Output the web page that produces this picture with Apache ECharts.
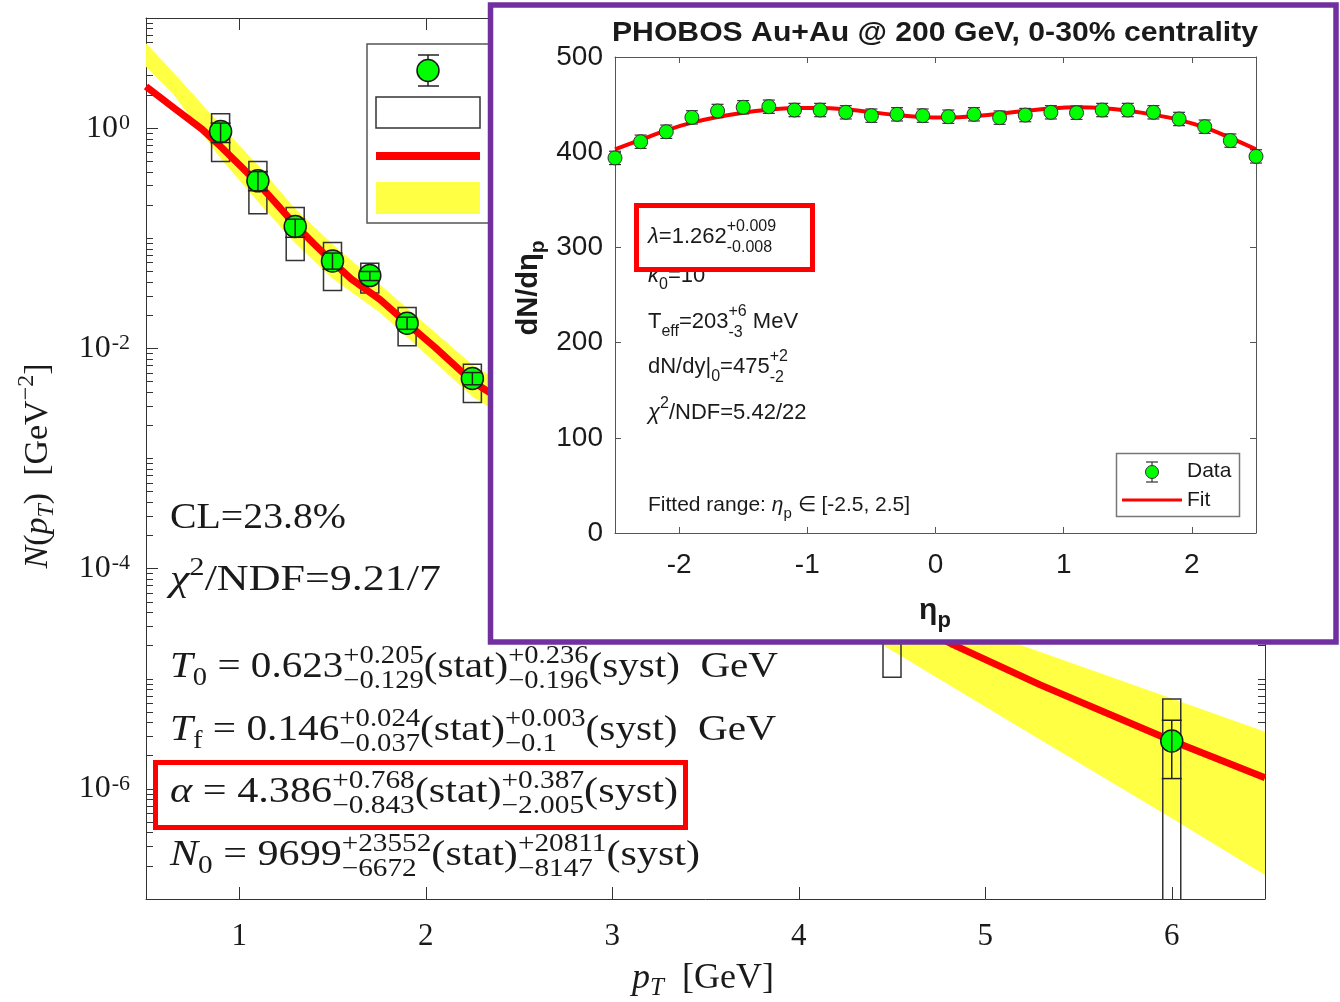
<!DOCTYPE html>
<html><head><meta charset="utf-8">
<script src="https://cdn.jsdelivr.net/npm/echarts@6/dist/echarts.min.js"></script>
<style>html,body{margin:0;padding:0;background:#fff}#c{width:1340px;height:1002px}</style>
</head><body><div id="c"></div>
<script>
// ---------------- main panel data (pT spectrum) ----------------
const ptValues    = [0.9, 1.1, 1.3, 1.5, 1.7, 1.9, 2.25, 4.5, 6.0];
const yieldValues = [0.93, 0.332, 0.128, 0.0623, 0.0458, 0.0169, 0.00532, 3.0e-5, 2.72e-6];
const statLow     = [0.74, 0.27, 0.102, 0.0524, 0.0413, 0.0149, 0.00467, 2.4e-5, 1.24e-6];
const statHigh    = [1.11, 0.403, 0.149, 0.0733, 0.0499, 0.0192, 0.00603, 3.6e-5, 4.2e-6];
const systLow     = [0.497, 0.167, 0.0627, 0.0335, 0.0319, 0.01054, 0.00322, 1.03e-5, 5e-8];
const systHigh    = [1.35, 0.497, 0.19, 0.0914, 0.0594, 0.0235, 0.00718, 8e-5, 6.56e-6];
const fitPt       = [0.5, 0.65, 0.8, 0.9, 1.0, 1.1, 1.2, 1.3, 1.4, 1.5, 1.6, 1.757, 1.9, 2.05, 2.25, 2.6, 3, 3.5, 4, 4.5, 4.83, 5.295, 6, 6.5];
const fitValues   = [2.39, 1.52, 0.98, 0.68, 0.465, 0.316, 0.205, 0.132, 0.089, 0.0613, 0.0428, 0.0276, 0.0169, 0.0102, 0.0050, 2.1e-3, 8.3e-4, 2.8e-4, 1.05e-4, 4.0e-5, 2.03e-5, 8.8e-6, 2.73e-6, 1.26e-6];
const bandPt      = [0.5, 0.65, 0.9, 1.1, 1.3, 1.5, 1.757, 2.25, 3, 4, 4.45, 5.19, 6, 6.5];
const bandUpper   = [5.9, 3.16, 1.07, 0.46, 0.185, 0.088, 0.0377, 7.1e-3, 1.2e-3, 1.6e-4, 6e-5, 2.03e-5, 6.6e-6, 3.3e-6];
const bandLower   = [3.6, 2.0, 0.53, 0.215, 0.09, 0.043, 0.0209, 3.65e-3, 5.6e-4, 6.3e-5, 2.03e-5, 3.58e-6, 5.4e-7, 1.65e-7];
const xTickValues = [1, 2, 3, 4, 5, 6];
const yMajorTicks = [1e-6, 1e-4, 1e-2, 1];

// ---------------- inset data (dN/deta) ----------------
const etaValues  = [-2.5,-2.3,-2.1,-1.9,-1.7,-1.5,-1.3,-1.1,-0.9,-0.7,-0.5,-0.3,-0.1,0.1,0.3,0.5,0.7,0.9,1.1,1.3,1.5,1.7,1.9,2.1,2.3,2.5];
const dndeta     = [394,411,421.5,436.6,443.3,447.2,447.8,444.3,444.3,441.9,438.4,439.8,438.4,437.3,439.8,436.3,439,441.9,441.5,444.3,444.3,441.9,434.9,426.8,412.2,395.6];
const dndetaErr  = [7,7,7,7,7,7,7,7,7,7,7,7,7,7,7,7,7,7,7,7,7,7,7,7,7,7];
const fitDndeta  = [403,413,423,431,437,441.5,444.5,446.3,446.5,445,442,439,436.8,436.5,437.8,440.5,443.5,446,447.2,446.5,443.6,439.5,434,426,415,403];
const etaTicks   = [-2, -1, 0, 1, 2];

// minor log ticks (2..9 x 10^n and odd decades)
const yMinorTicks = [];
for (let e = -7; e <= 0; e++) {
  if (e % 2 !== 0) yMinorTicks.push(Math.pow(10, e));
  for (let k = 2; k <= 9; k++) yMinorTicks.push(k * Math.pow(10, e));
}
yMinorTicks.push(10);

const SERIF = 'Liberation Serif', SANS = 'Liberation Sans';
const AX = '#333';

// ------------- text helpers (sub/superscripts) -------------
const mctx = document.createElement('canvas').getContext('2d');
function fstr(p, ff) { return (p.it ? 'italic ' : '') + (p.b ? 'bold ' : '') + p.fs + 'px "' + ff + '"'; }
function meas(t, f) { mctx.font = f; return mctx.measureText(t).width; }
function tEl(t, x, y, p, ff, fill, z) {
  return { type: 'text', x: x, y: y, z: z, style: { text: t, fontSize: p.fs, fontFamily: ff,
    fontStyle: p.it ? 'italic' : 'normal', fontWeight: p.b ? 'bold' : 'normal',
    fill: fill, align: 'left', verticalAlign: 'middle' } };
}
function mathLine(o) {
  const ff = o.ff, fill = o.fill || '#1a1a1a', z = o.z || 5, base = o.fs || 36;
  let cx = 0; const kids = [];
  for (const q of o.pieces) {
    const p = Object.assign({ fs: base }, q);
    if (p.sup !== undefined || p.sub !== undefined) {
      let w = 0;
      if (p.sup !== undefined) { w = Math.max(w, meas(p.sup, fstr(p, ff))); kids.push(tEl(p.sup, cx, p.up, p, ff, fill, z)); }
      if (p.sub !== undefined) { w = Math.max(w, meas(p.sub, fstr(p, ff))); kids.push(tEl(p.sub, cx, p.dn, p, ff, fill, z)); }
      cx += w + (p.gap || 0);
    } else {
      kids.push(tEl(p.t, cx, p.dy || 0, p, ff, fill, z));
      cx += meas(p.t, fstr(p, ff)) + (p.gap || 0);
    }
  }
  const sx = o.target ? o.target / cx : 1;
  const off = o.align === 'center' ? -cx * sx / 2 : 0;
  return { type: 'group', x: o.x, y: o.y, rotation: o.rotation || 0, z: z,
    children: [{ type: 'group', x: off, scaleX: sx, z: z, children: kids }] };
}

// ---------- main annotations ----------
const S = 25; // script size
function st(a, b) { return { sup: a, sub: b, fs: S, up: -12, dn: 13 }; }
const mainTexts = [
  mathLine({ x: 170, y: 519, ff: SERIF, target: 176, pieces: [{ t: 'CL=23.8%' }] }),
  mathLine({ x: 170, y: 581, ff: SERIF, target: 271, pieces: [{ t: 'χ', it: 1 }, { t: '2', fs: S, dy: -13 }, { t: '/NDF=9.21/7' }] }),
  mathLine({ x: 170, y: 668, ff: SERIF, target: 608, pieces: [{ t: 'T', it: 1 }, { t: '0', fs: S, dy: 10 }, { t: ' = 0.623' }, st('+0.205', '−0.129'), { t: '(stat)' }, st('+0.236', '−0.196'), { t: '(syst)  GeV' }] }),
  mathLine({ x: 170, y: 731, ff: SERIF, target: 606, pieces: [{ t: 'T', it: 1 }, { t: 'f', fs: S, dy: 10 }, { t: ' = 0.146' }, st('+0.024', '−0.037'), { t: '(stat)' }, st('+0.003', '−0.1'), { t: '(syst)  GeV' }] }),
  mathLine({ x: 170, y: 793, ff: SERIF, target: 508, pieces: [{ t: 'α', it: 1 }, { t: ' = 4.386' }, st('+0.768', '−0.843'), { t: '(stat)' }, st('+0.387', '−2.005'), { t: '(syst)' }] }),
  mathLine({ x: 170, y: 856, ff: SERIF, target: 530, pieces: [{ t: 'N', it: 1 }, { t: '0', fs: S, dy: 10 }, { t: ' = 9699' }, st('+23552', '−6672'), { t: '(stat)' }, st('+20811', '−8147'), { t: '(syst)' }] }),
  { type: 'rect', z: 5, shape: { x: 155.5, y: 762.5, width: 530, height: 65 }, style: { fill: 'none', stroke: '#ff0000', lineWidth: 5 } },
  // axis names
  mathLine({ x: 38, y: 466, ff: SERIF, fs: 34, align: 'center', rotation: Math.PI / 2, pieces: [{ t: 'N', it: 1 }, { t: '(' }, { t: 'p', it: 1 }, { t: 'T', it: 1, fs: 24, dy: 9 }, { t: ')  [GeV' }, { t: '−2', fs: 24, dy: -11 }, { t: ']' }] }),
  mathLine({ x: 703, y: 979, ff: SERIF, fs: 36, align: 'center', pieces: [{ t: 'p', it: 1 }, { t: 'T', it: 1, fs: 25, dy: 9 }, { t: '  [GeV]' }] })
];

// ---------- main legend ----------
const mainLegend = [
  { type: 'rect', z: 5, shape: { x: 367, y: 44, width: 150, height: 179 }, style: { fill: '#fff', stroke: '#555', lineWidth: 1.5 } },
  { type: 'line', z: 6, shape: { x1: 428, y1: 55, x2: 428, y2: 86 }, style: { stroke: '#222', lineWidth: 1.5 } },
  { type: 'line', z: 6, shape: { x1: 418, y1: 55, x2: 439, y2: 55 }, style: { stroke: '#222', lineWidth: 1.5 } },
  { type: 'line', z: 6, shape: { x1: 418, y1: 86, x2: 439, y2: 86 }, style: { stroke: '#222', lineWidth: 1.5 } },
  { type: 'circle', z: 7, shape: { cx: 428, cy: 70.5, r: 11 }, style: { fill: '#00ff00', stroke: '#1a1a1a', lineWidth: 1.5 } },
  { type: 'rect', z: 6, shape: { x: 376, y: 97, width: 104, height: 31 }, style: { fill: '#fff', stroke: '#333', lineWidth: 1.5 } },
  { type: 'line', z: 6, shape: { x1: 376, y1: 156, x2: 480, y2: 156 }, style: { stroke: '#ff0000', lineWidth: 8 } },
  { type: 'rect', z: 6, shape: { x: 376, y: 182, width: 104, height: 32 }, style: { fill: '#ffff44' } }
];

// ---------- inset frame + annotations ----------
const IS = 22, IS2 = 16;
function ist(a, b) { return { sup: a, sub: b, fs: IS2, up: -10, dn: 11 }; }
const insetGraphics = [
  { type: 'rect', z: 10, shape: { x: 490.5, y: 5, width: 845.5, height: 637 }, style: { fill: '#fff', stroke: '#7030a0', lineWidth: 5.5 } },
  mathLine({ x: 935, y: 33, ff: SANS, fs: 28, align: 'center', z: 30, target: 646, pieces: [{ t: 'PHOBOS Au+Au @ 200 GeV, 0-30% centrality', b: 1 }] }),
  mathLine({ x: 529, y: 288, ff: SANS, fs: 29, align: 'center', z: 30, rotation: Math.PI / 2, pieces: [{ t: 'dN/d', b: 1 }, { t: 'η', b: 1 }, { t: 'p', b: 1, fs: 21, dy: 9 }] }),
  mathLine({ x: 935, y: 611, ff: SANS, fs: 30, align: 'center', z: 30, pieces: [{ t: 'η', b: 1 }, { t: 'p', b: 1, fs: 22, dy: 10 }] }),
  mathLine({ x: 648, y: 276, ff: SANS, fs: IS, z: 24, pieces: [{ t: 'κ', it: 1 }, { t: '0', fs: IS2, dy: 9 }, { t: '=10' }] }),
  { type: 'rect', z: 26, shape: { x: 636.5, y: 205.5, width: 176, height: 64 }, style: { fill: '#fff', stroke: '#ff0000', lineWidth: 5 } },
  mathLine({ x: 648, y: 237, ff: SANS, fs: IS, z: 28, pieces: [{ t: 'λ', it: 1 }, { t: '=1.262' }, ist('+0.009', '-0.008')] }),
  mathLine({ x: 648, y: 322, ff: SANS, fs: IS, z: 28, pieces: [{ t: 'T' }, { t: 'eff', fs: IS2, dy: 10 }, { t: '=203' }, ist('+6', '-3'), { t: ' MeV' }] }),
  mathLine({ x: 648, y: 367, ff: SANS, fs: IS, z: 28, pieces: [{ t: 'dN/dy|' }, { t: '0', fs: IS2, dy: 10 }, { t: '=475' }, ist('+2', '-2')] }),
  mathLine({ x: 648, y: 413, ff: SANS, fs: IS, z: 28, pieces: [{ t: 'χ', it: 1 }, { t: '2', fs: IS2, dy: -9 }, { t: '/NDF=5.42/22' }] }),
  mathLine({ x: 648, y: 505, ff: SANS, fs: 21, z: 28, pieces: [{ t: 'Fitted range: ' }, { t: 'η', it: 1 }, { t: 'p', fs: 15, dy: 9 }, { t: ' ∈ [-2.5, 2.5]' }] }),
  // inset legend
  { type: 'rect', z: 27, shape: { x: 1116.5, y: 453.5, width: 123, height: 63 }, style: { fill: '#fff', stroke: '#777', lineWidth: 1.5 } },
  { type: 'line', z: 28, shape: { x1: 1152, y1: 462, x2: 1152, y2: 482 }, style: { stroke: '#333', lineWidth: 1.2 } },
  { type: 'line', z: 28, shape: { x1: 1146, y1: 462, x2: 1158, y2: 462 }, style: { stroke: '#333', lineWidth: 1.2 } },
  { type: 'line', z: 28, shape: { x1: 1146, y1: 482, x2: 1158, y2: 482 }, style: { stroke: '#333', lineWidth: 1.2 } },
  { type: 'circle', z: 29, shape: { cx: 1152, cy: 472, r: 6.5 }, style: { fill: '#00ff00', stroke: '#333', lineWidth: 1 } },
  { type: 'line', z: 28, shape: { x1: 1122, y1: 500, x2: 1182, y2: 500 }, style: { stroke: '#ff0000', lineWidth: 3 } },
  { type: 'text', z: 28, x: 1187, y: 471, style: { text: 'Data', fontSize: 21, fontFamily: SANS, fill: '#1a1a1a', verticalAlign: 'middle' } },
  { type: 'text', z: 28, x: 1187, y: 500, style: { text: 'Fit', fontSize: 21, fontFamily: SANS, fill: '#1a1a1a', verticalAlign: 'middle' } }
];

// ---------- series helpers ----------
function errBarItem(capHalf, color, lw) {
  return function (params, api) {
    const x = api.value(0);
    const top = api.coord([x, api.value(2)]);
    const bot = api.coord([x, api.value(1)]);
    const st = { stroke: color, lineWidth: lw };
    return { type: 'group', children: [
      { type: 'line', shape: { x1: top[0], y1: top[1], x2: bot[0], y2: bot[1] }, style: st },
      { type: 'line', shape: { x1: top[0] - capHalf, y1: top[1], x2: top[0] + capHalf, y2: top[1] }, style: st },
      { type: 'line', shape: { x1: bot[0] - capHalf, y1: bot[1], x2: bot[0] + capHalf, y2: bot[1] }, style: st }
    ] };
  };
}

const chart = echarts.init(document.getElementById('c'), null, { renderer: 'canvas' });

const baseAxis = { splitLine: { show: false }, axisLine: { onZero: false, lineStyle: { color: AX, width: 1 } } };
const insetLine = { show: true, onZero: false, lineStyle: { color: '#555', width: 1 } };

const option = {
  animation: false,
  backgroundColor: '#fff',
  grid: [
    { left: 146, top: 18, width: 1119, height: 881 },
    { left: 615, top: 57, width: 641, height: 476, z: 20 }
  ],
  xAxis: [
    Object.assign({}, baseAxis, { gridIndex: 0, type: 'value', min: 0.5, max: 6.5, position: 'bottom',
      axisTick: { inside: true, length: 12, customValues: xTickValues, lineStyle: { color: AX } },
      axisLabel: { customValues: xTickValues, fontFamily: SERIF, fontSize: 31, color: '#1a1a1a', margin: 22 } }),
    Object.assign({}, baseAxis, { gridIndex: 0, type: 'value', min: 0.5, max: 6.5, position: 'top',
      axisTick: { inside: true, length: 12, customValues: xTickValues, lineStyle: { color: AX } },
      axisLabel: { show: false } }),
    Object.assign({}, baseAxis, { gridIndex: 1, type: 'value', min: -2.5, max: 2.5, position: 'bottom', z: 20,
      axisLine: insetLine,
      axisTick: { inside: true, length: 6, customValues: etaTicks, lineStyle: { color: '#555' } },
      axisLabel: { customValues: etaTicks, fontFamily: SANS, fontSize: 28, color: '#1a1a1a', margin: 18 } }),
    Object.assign({}, baseAxis, { gridIndex: 1, type: 'value', min: -2.5, max: 2.5, position: 'top', z: 20,
      axisLine: insetLine,
      axisTick: { inside: true, length: 6, customValues: etaTicks, lineStyle: { color: '#555' } },
      axisLabel: { show: false } })
  ],
  yAxis: [
    Object.assign({}, baseAxis, { gridIndex: 0, type: 'log', logBase: 10, min: 1e-7, max: 10, position: 'left',
      axisTick: { inside: true, length: 12, customValues: yMajorTicks, lineStyle: { color: AX } },
      axisLabel: { customValues: yMajorTicks, margin: 16, color: '#1a1a1a',
        formatter: function (v) { const e = Math.round(Math.log10(v)); return '{b|10}{s|' + (e === 0 ? '0' : '-' + Math.abs(e)) + '}'; },
        rich: { b: { fontFamily: SERIF, fontSize: 32, color: '#1a1a1a' }, s: { fontFamily: SERIF, fontSize: 22, color: '#1a1a1a', verticalAlign: 'top', padding: [0, 0, 0, 1] } } } }),
    Object.assign({}, baseAxis, { gridIndex: 0, type: 'log', logBase: 10, min: 1e-7, max: 10, position: 'left',
      axisLine: { show: false },
      axisTick: { inside: true, length: 7, customValues: yMinorTicks, lineStyle: { color: AX } },
      axisLabel: { show: false } }),
    Object.assign({}, baseAxis, { gridIndex: 0, type: 'log', logBase: 10, min: 1e-7, max: 10, position: 'right',
      axisTick: { inside: true, length: 12, customValues: yMajorTicks, lineStyle: { color: AX } },
      axisLabel: { show: false } }),
    Object.assign({}, baseAxis, { gridIndex: 0, type: 'log', logBase: 10, min: 1e-7, max: 10, position: 'right',
      axisLine: { show: false },
      axisTick: { inside: true, length: 7, customValues: yMinorTicks, lineStyle: { color: AX } },
      axisLabel: { show: false } }),
    Object.assign({}, baseAxis, { gridIndex: 1, type: 'value', min: 0, max: 500, interval: 100, position: 'left', z: 20,
      axisLine: insetLine,
      axisTick: { show: true, inside: true, length: 6, lineStyle: { color: '#555' } },
      axisLabel: { fontFamily: SANS, fontSize: 28, color: '#1a1a1a', margin: 12 } }),
    Object.assign({}, baseAxis, { gridIndex: 1, type: 'value', min: 0, max: 500, interval: 100, position: 'right', z: 20,
      axisLine: insetLine,
      axisTick: { show: true, inside: true, length: 6, lineStyle: { color: '#555' } },
      axisLabel: { show: false } })
  ],
  series: [
    // systematic band (yellow)
    { type: 'custom', xAxisIndex: 0, yAxisIndex: 0, z: 1, clip: true,
      data: bandPt.map((p, i) => [p, bandLower[i], bandUpper[i]]),
      renderItem: function (params, api) {
        if (params.dataIndex !== 0) return null;
        const up = bandPt.map((p, i) => api.coord([p, bandUpper[i]]));
        const lo = bandPt.map((p, i) => api.coord([p, bandLower[i]])).reverse();
        return { type: 'polygon', shape: { points: up.concat(lo) }, style: { fill: '#ffff44' } };
      } },
    // systematic boxes
    { type: 'custom', xAxisIndex: 0, yAxisIndex: 0, z: 2, clip: true,
      data: ptValues.map((p, i) => [p, systLow[i], systHigh[i]]),
      renderItem: function (params, api) {
        const x = api.value(0);
        const a = api.coord([x, api.value(2)]), b = api.coord([x, api.value(1)]);
        return { type: 'rect', shape: { x: a[0] - 9, y: a[1], width: 18, height: b[1] - a[1] },
          style: { fill: 'none', stroke: '#333', lineWidth: 1.5 } };
      } },
    // fit curve
    { type: 'line', xAxisIndex: 0, yAxisIndex: 0, z: 3, data: fitPt.map((p, i) => [p, fitValues[i]]),
      smooth: false, showSymbol: false, lineStyle: { color: '#ff0000', width: 7, join: 'round' } },
    // data points
    { type: 'scatter', xAxisIndex: 0, yAxisIndex: 0, z: 4, data: ptValues.map((p, i) => [p, yieldValues[i]]),
      symbolSize: 22, itemStyle: { color: '#00ff00', borderColor: '#1a1a1a', borderWidth: 1.5, opacity: 1 } },
    // stat error bars
    { type: 'custom', xAxisIndex: 0, yAxisIndex: 0, z: 5, clip: true,
      data: ptValues.map((p, i) => [p, statLow[i], statHigh[i]]),
      renderItem: errBarItem(10, '#222', 1.5) },

    // ---- inset ----
    { type: 'line', xAxisIndex: 2, yAxisIndex: 4, z: 21, data: etaValues.map((e, i) => [e, fitDndeta[i]]),
      smooth: 0.3, showSymbol: false, lineStyle: { color: '#ff0000', width: 4 } },
    { type: 'custom', xAxisIndex: 2, yAxisIndex: 4, z: 22,
      data: etaValues.map((e, i) => [e, dndeta[i] - dndetaErr[i], dndeta[i] + dndetaErr[i]]),
      renderItem: errBarItem(6, '#333', 1.2) },
    { type: 'scatter', xAxisIndex: 2, yAxisIndex: 4, z: 23, data: etaValues.map((e, i) => [e, dndeta[i]]),
      symbolSize: 14, itemStyle: { color: '#00ff00', borderColor: '#333', borderWidth: 1, opacity: 1 } }
  ],
  graphic: { elements: mainTexts.concat(mainLegend, insetGraphics) }
};
chart.setOption(option);
</script>
</body></html>
